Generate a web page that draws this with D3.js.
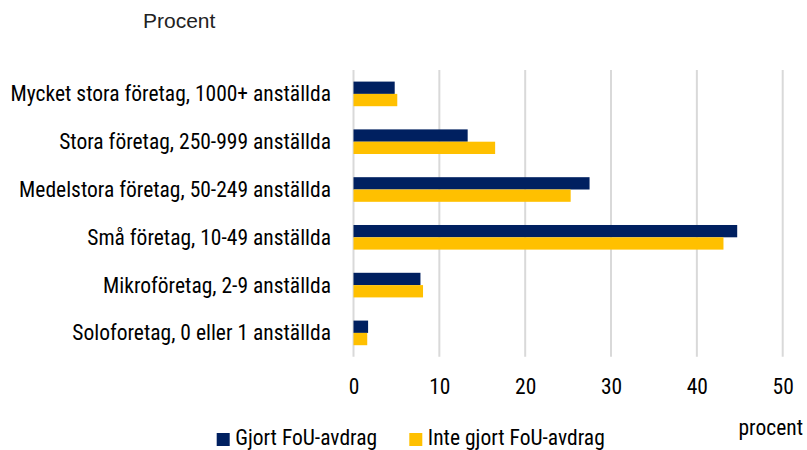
<!DOCTYPE html>
<html><head><meta charset="utf-8">
<script src="https://cdn.jsdelivr.net/npm/d3@7"></script>
<style>
html,body{margin:0;padding:0;background:#fff;}
svg{display:block;}
.narrow{font-family:"Roboto Condensed","Roboto",sans-serif;font-stretch:condensed;}
</style></head>
<body>
<svg id="chart" width="807" height="450"></svg>
<script>
const categories = [
  "Mycket stora företag, 1000+ anställda",
  "Stora företag, 250-999 anställda",
  "Medelstora företag, 50-249 anställda",
  "Små företag, 10-49 anställda",
  "Mikroföretag, 2-9 anställda",
  "Soloforetag, 0 eller 1 anställda"
];
const seriesNames = ["Gjort FoU-avdrag", "Inte gjort FoU-avdrag"];
const gjort = [4.8, 13.3, 27.5, 44.7, 7.8, 1.7];
const inteGjort = [5.1, 16.5, 25.3, 43.1, 8.1, 1.6];
const xTicks = [0, 10, 20, 30, 40, 50];
const colors = ["#002060", "#FFC000"];

const svg = d3.select("#chart");
const pL = 353.5, pR = 782.7, pT = 70, pB = 356.8;
const fs = 21.5;

const x = d3.scaleLinear().domain([0, 50]).range([pL, pR]);
const y = d3.scaleBand().domain(categories).range([pT, pB]).paddingInner(0.485).paddingOuter(0.2425);
const ySub = d3.scaleBand().domain([0, 1]).range([0, y.bandwidth()]);

// gridlines
svg.append("g").selectAll("line").data(xTicks).join("line")
  .attr("x1", d => x(d)).attr("x2", d => x(d))
  .attr("y1", pT).attr("y2", pB)
  .attr("stroke", "#d9d9d9").attr("stroke-width", 2);

const data = categories.map((c, i) => ({cat: c, vals: [gjort[i], inteGjort[i]]}));
const groups = svg.append("g").selectAll("g").data(data).join("g")
  .attr("transform", d => `translate(0,${y(d.cat)})`);
groups.selectAll("rect").data(d => d.vals.map((v, k) => ({v, k}))).join("rect")
  .attr("x", x(0))
  .attr("y", d => ySub(d.k))
  .attr("width", d => x(d.v) - x(0))
  .attr("height", ySub.bandwidth())
  .attr("fill", d => colors[d.k]);

// category labels
svg.append("g").attr("class", "narrow").selectAll("text").data(categories).join("text")
  .attr("x", 331).attr("y", d => y(d) + y.bandwidth() / 2)
  .attr("dy", "0.35em").attr("text-anchor", "end")
  .attr("font-size", fs).attr("fill", "#000").text(d => d);

// x axis tick labels
const xAxis = d3.axisBottom(x).tickValues(xTicks).tickSize(0).tickPadding(0);
const ax = svg.append("g").attr("transform", `translate(0,${pB})`).call(xAxis);
ax.attr("font-family", null).attr("font-size", null);
ax.select(".domain").remove();
ax.selectAll("text").attr("class", "narrow").attr("font-size", fs).attr("fill", "#000")
  .attr("y", 30).attr("dy", "0.35em");

// title
svg.append("text").attr("x", 143).attr("y", 28)
  .attr("font-family", "Liberation Sans, Arial, sans-serif").attr("font-size", 21)
  .attr("fill", "#222").text("Procent");

// procent unit label
svg.append("text").attr("class", "narrow").attr("x", 803).attr("y", 435)
  .attr("text-anchor", "end").attr("font-size", fs).attr("fill", "#000").text("procent");

// legend
const legX = [216.7, 409.3];
const leg = svg.append("g").selectAll("g").data(seriesNames).join("g")
  .attr("transform", (d, i) => `translate(${legX[i]},433)`);
leg.append("rect").attr("width", 13).attr("height", 13).attr("fill", (d, i) => colors[i]);
leg.append("text").attr("class", "narrow").attr("x", 18.5).attr("y", 4.5).attr("dy", "0.35em")
  .attr("font-size", fs).attr("fill", "#000").text(d => d);
</script>
</body></html>
